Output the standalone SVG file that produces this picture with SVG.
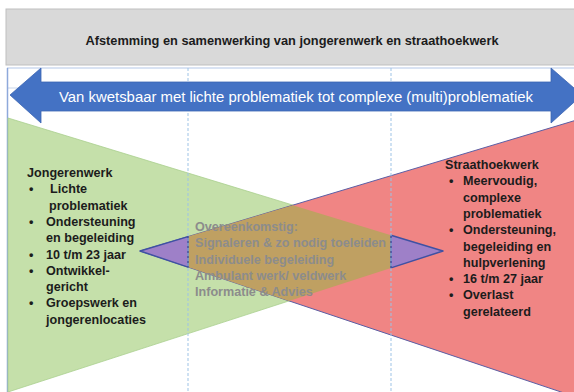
<svg xmlns="http://www.w3.org/2000/svg" width="574" height="392" viewBox="0 0 574 392">
<defs>
<style>
.t{font-family:"Liberation Sans",Arial,sans-serif;font-weight:bold;font-size:12.6px;fill:#1c1c1c}
.h{font-family:"Liberation Sans",Arial,sans-serif;font-weight:bold;font-size:12.8px;fill:#1c1c1c}
.mid{font-family:"Liberation Sans",Arial,sans-serif;font-weight:bold;font-size:12.6px;fill:#8c8c8c}
.grid{stroke:#9dc3e6;stroke-width:1;stroke-dasharray:3 2;fill:none}
.purple{fill:#9e80c8;stroke:#3f51a3;stroke-width:1.5;stroke-linejoin:round}
</style>
</defs>
<rect width="574" height="392" fill="#ffffff"/>

<g id="header">
<rect x="6" y="9" width="572" height="56" fill="#d9d9d9" stroke="#bfbfbf" stroke-width="1"/>
<text class="h" x="292" y="45" text-anchor="middle">Afstemming en samenwerking van jongerenwerk en straathoekwerk</text>
</g>

<g id="table">
<line x1="7" y1="68" x2="574" y2="68" stroke="#b4c7e7" stroke-width="1"/>
<line x1="7" y1="88" x2="574" y2="88" stroke="#c9d6ea" stroke-width="1"/>
<line x1="7.5" y1="68" x2="7.5" y2="392" stroke="#8ea9db" stroke-width="1.5"/>
</g>

<g id="jongerenwerk-shape">
<polygon points="8,118 443,251 8,392" fill="#c5e0aa" stroke="#a9cf8e" stroke-width="0.8"/>
</g>
<g id="straathoekwerk-shape">
<polygon points="140,251 585,117.5 585,400" fill="#f08584" stroke="#5b5fa6" stroke-width="1"/>
</g>
<g id="overlap">
<polygon points="188,236.6 292.8,205.2 391,235.2 391,267.9 289,301 188,267.1" fill="#bfa062"/>
<polygon class="purple" points="140,251 188,236.6 188,267.1"/>
<polygon class="purple" points="443,251 391,235.2 391,267.9"/>
</g>

<g id="grid">
<line class="grid" x1="188" y1="68" x2="188" y2="392"/>
<line class="grid" x1="391" y1="68" x2="391" y2="392"/>
</g>

<g id="range-arrow">
<polygon points="10,95 41,68 41,82 551,82 551,68 582,95 551,123 551,111 41,111 41,123" fill="#4472c4" stroke="#3b65b3" stroke-width="0.8"/>
<text x="296" y="101.5" text-anchor="middle" font-family="Liberation Sans, Arial, sans-serif" font-size="14.9" fill="#ffffff">Van kwetsbaar met lichte problematiek tot complexe (multi)problematiek</text>
</g>

<g id="jongerenwerk-text">
<text class="t" x="27" y="177">Jongerenwerk</text>
<text class="t" x="29" y="193.3">•</text><text class="t" x="50" y="193.3">Lichte</text>
<text class="t" x="49" y="209.6">problematiek</text>
<text class="t" x="29" y="225.9">•</text><text class="t" x="46" y="225.9">Ondersteuning</text>
<text class="t" x="46" y="242.2">en begeleiding</text>
<text class="t" x="29" y="258.5">•</text><text class="t" x="46" y="258.5">10 t/m 23 jaar</text>
<text class="t" x="29" y="274.8">•</text><text class="t" x="46" y="274.8">Ontwikkel-</text>
<text class="t" x="46" y="291.1">gericht</text>
<text class="t" x="29" y="307.4">•</text><text class="t" x="46" y="307.4">Groepswerk en</text>
<text class="t" x="46" y="323.7">jongerenlocaties</text>
</g>

<g id="straathoekwerk-text">
<text class="t" x="445" y="169">Straathoekwerk</text>
<text class="t" x="449" y="185.3">•</text><text class="t" x="463" y="185.3">Meervoudig,</text>
<text class="t" x="463" y="201.6">complexe</text>
<text class="t" x="463" y="217.9">problematiek</text>
<text class="t" x="449" y="234.2">•</text><text class="t" x="463" y="234.2">Ondersteuning,</text>
<text class="t" x="463" y="250.5">begeleiding en</text>
<text class="t" x="463" y="266.8">hulpverlening</text>
<text class="t" x="449" y="283.1">•</text><text class="t" x="463" y="283.1">16 t/m 27 jaar</text>
<text class="t" x="449" y="299.4">•</text><text class="t" x="463" y="299.4">Overlast</text>
<text class="t" x="463" y="315.7">gerelateerd</text>
</g>

<g id="overlap-text">
<text class="mid" x="195" y="231">Overeenkomstig:</text>
<text class="mid" x="195" y="247.3">Signaleren &amp; zo nodig toeleiden</text>
<text class="mid" x="195" y="263.6">Individuele  begeleiding</text>
<text class="mid" x="195" y="279.9">Ambulant werk/ veldwerk</text>
<text class="mid" x="195" y="296.2">Informatie  &amp; Advies</text>
</g>

<g id="connectors"></g>
</svg>
